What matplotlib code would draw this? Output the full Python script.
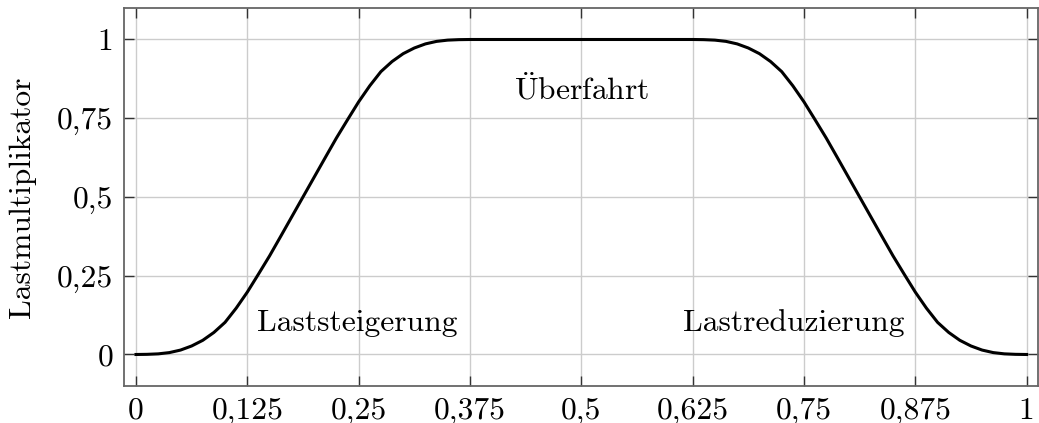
import matplotlib
matplotlib.use("Agg")
import matplotlib.pyplot as plt

plt.rcParams['font.family'] = ['cmr10', 'DejaVu Serif']
plt.rcParams['mathtext.fontset'] = 'cm'
plt.rcParams['axes.formatter.use_mathtext'] = True

# load multiplier
# ramp up (0 .. 0.375)
x_up = [0, 0.0125, 0.025, 0.0375, 0.05, 0.0625, 0.075, 0.0875, 0.1, 0.1125,
        0.125, 0.1375, 0.15, 0.1625, 0.175, 0.1875, 0.2, 0.2125, 0.225, 0.2375,
        0.25, 0.2625, 0.275, 0.2875, 0.3, 0.3125, 0.325, 0.3375, 0.35, 0.3625,
        0.375]
y_up = [0, 0.0005, 0.002, 0.006, 0.014, 0.027, 0.045, 0.07, 0.102, 0.147,
        0.198, 0.255, 0.313, 0.375, 0.4375, 0.5, 0.5625, 0.625, 0.687, 0.745,
        0.802, 0.853, 0.898, 0.93, 0.955, 0.973, 0.986, 0.994, 0.998, 0.9995,
        1.0]
# ramp down (0.625 .. 1)
x_down = [0.625, 0.6375, 0.65, 0.6625, 0.675, 0.6875, 0.7, 0.7125, 0.725,
          0.7375, 0.75, 0.7625, 0.775, 0.7875, 0.8, 0.8125, 0.825, 0.8375,
          0.85, 0.8625, 0.875, 0.8875, 0.9, 0.9125, 0.925, 0.9375, 0.95,
          0.9625, 0.975, 0.9875, 1.0]
y_down = [1.0, 0.9995, 0.998, 0.994, 0.986, 0.973, 0.955, 0.93, 0.898,
          0.853, 0.802, 0.745, 0.687, 0.625, 0.5625, 0.5, 0.4375, 0.375,
          0.313, 0.255, 0.198, 0.147, 0.102, 0.07, 0.045, 0.027, 0.014,
          0.006, 0.002, 0.0005, 0]

x_ticks = [0, 0.125, 0.25, 0.375, 0.5, 0.625, 0.75, 0.875, 1]
x_labels = ['0', '0,125', '0,25', '0,375', '0,5', '0,625', '0,75', '0,875', '1']
y_ticks = [0, 0.25, 0.5, 0.75, 1]
y_labels = ['0', '0,25', '0,5', '0,75', '1']

phase_names = ['Laststeigerung', r'$\ddot{\mathrm{U}}$berfahrt', 'Lastreduzierung']
phase_x = [0.249, 0.5, 0.739]
phase_y = [0.075, 0.81, 0.075]

fs = 22.7

fig = plt.figure(figsize=(10.39, 4.23), dpi=100)
ax = fig.add_axes([0.1198, 0.0875, 0.8792, 0.8936])

ax.plot(x_up + x_down, y_up + y_down, color='black', lw=2.2,
        solid_joinstyle='round', zorder=3)

for name, px, py in zip(phase_names, phase_x, phase_y):
    ax.text(px, py, name, ha='center', va='baseline', fontsize=fs)

ax.set_xlim(-0.0129, 1.0127)
ax.set_ylim(-0.1, 1.1)
ax.set_xticks(x_ticks)
ax.set_xticklabels(x_labels)
ax.set_yticks(y_ticks)
ax.set_yticklabels(y_labels)

ax.grid(True, color='#cccccc', lw=1.0, zorder=0)
ax.set_axisbelow(True)
for s in ax.spines.values():
    s.set_color('#666666')
    s.set_linewidth(1.3)
ax.tick_params(direction='in', length=7, width=1.0, color='#333333',
               top=True, right=True, labelsize=fs, pad=8)

ax.set_ylabel('Lastmultiplikator', fontsize=fs, labelpad=15)

fig.savefig('out.png', dpi=100)
